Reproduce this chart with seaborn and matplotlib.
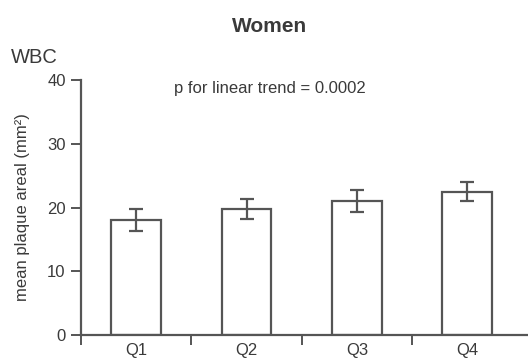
import numpy as np
import matplotlib
matplotlib.use("Agg")
import matplotlib.pyplot as plt
import seaborn as sns

# =========================================================
# DATA
# =========================================================
quartiles = ["Q1", "Q2", "Q3", "Q4"]
mean_area = [18.0, 19.8, 21.0, 22.5]
err = [1.7, 1.6, 1.75, 1.5]
y_ticks = [0, 10, 20, 30, 40]

# =========================================================
# STYLE
# =========================================================
sns.set_theme(style="ticks")
plt.rcParams["font.family"] = ["Liberation Sans", "DejaVu Sans"]
line_col = "#555555"
text_col = "#3a3a3a"

fig = plt.figure(figsize=(5.28, 3.61), dpi=100)
ax = fig.add_axes([81 / 528, 26 / 361, 447 / 528, 255 / 361])

sns.barplot(
    x=quartiles,
    y=mean_area,
    width=0.45,
    color="white",
    edgecolor=line_col,
    linewidth=1.6,
    errorbar=None,
    ax=ax,
)
ax.errorbar(
    quartiles, mean_area, yerr=err,
    fmt="none", ecolor=line_col, elinewidth=1.6, capsize=5, capthick=1.6,
)

# axes
ax.set_ylim(0, 40)
ax.set_yticks(y_ticks)
ax.set_xlim(-0.5, 3.55)
boundaries = np.arange(len(quartiles)) - 0.5
ax.set_xticks(boundaries, labels=[""] * len(boundaries))
ax.set_xticks(np.arange(len(quartiles)), labels=quartiles, minor=True)
ax.tick_params(axis="x", which="major", length=7, width=1.4, color=line_col)
ax.tick_params(axis="x", which="minor", length=0, pad=6, labelsize=12, labelcolor=text_col)
ax.tick_params(axis="y", length=7, width=1.4, color=line_col, pad=4,
               labelsize=12, labelcolor=text_col)
sns.despine(ax=ax)
for s in ["left", "bottom"]:
    ax.spines[s].set_color(line_col)
    ax.spines[s].set_linewidth(1.6)

ax.set_xlabel("")
ax.set_ylabel("mean plaque areal (mm²)", fontsize=12, color=text_col)
ax.yaxis.set_label_coords(-0.115, 0.5)

ax.text(0.423, 0.949, "p for linear trend = 0.0002", transform=ax.transAxes,
        ha="center", va="baseline", fontsize=12, color=text_col)

fig.text(0.511, 0.911, "Women", ha="center", va="baseline",
         fontsize=15, fontweight="bold", color=text_col)
fig.text(0.021, 0.825, "WBC", ha="left", va="baseline",
         fontsize=14.5, color=text_col)

fig.savefig("out.png", dpi=100)
